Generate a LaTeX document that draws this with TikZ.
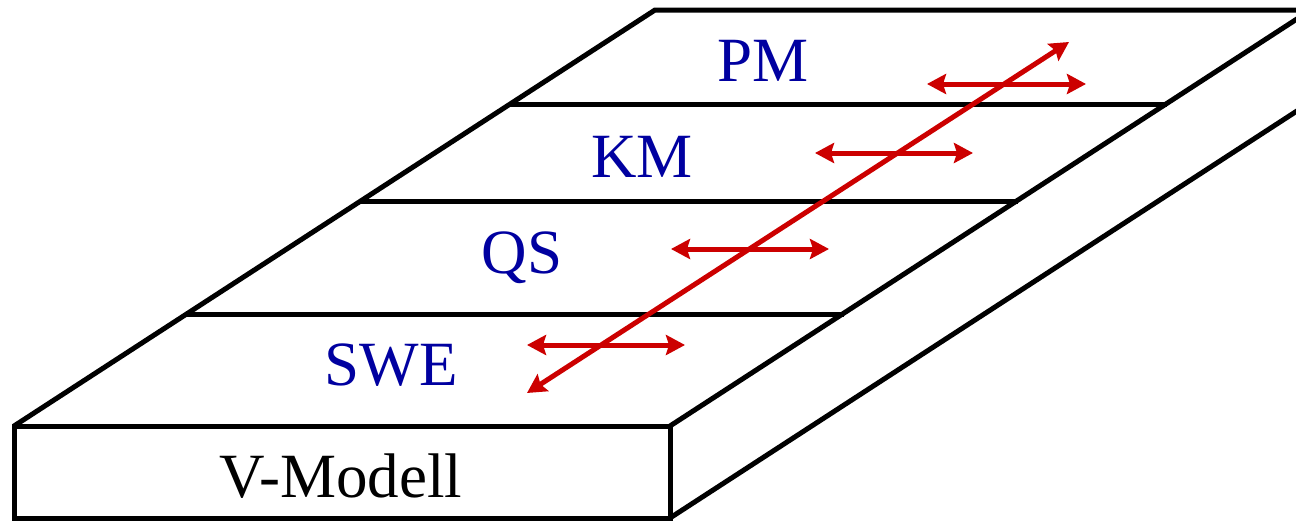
\documentclass[tikz,border=0pt]{standalone}
\usepackage{fontspec}
\setmainfont{Liberation Serif}
\usetikzlibrary{arrows.meta}
\definecolor{lblblue}{RGB}{0,0,160}
\definecolor{arrred}{RGB}{204,0,0}
\begin{document}
\begin{tikzpicture}[x=1pt,y=-1pt,
  edge/.style={line width=5pt, black, line join=miter},
  lbl/.style={text=lblblue, font=\fontsize{63}{75}\selectfont, anchor=base, inner sep=0pt},
  redarrow/.style={line width=5pt, arrred,
    {Stealth[length=19pt,width=20pt,inset=3pt]}-{Stealth[length=19pt,width=20pt,inset=3pt]}}]
\useasboundingbox (0,0) rectangle (1296,522);
\clip (0,0) rectangle (1296,522);
% corners
\coordinate (FL) at (14,426);
\coordinate (FR) at (670,426);
\coordinate (BL) at (14,518);
\coordinate (BR) at (670,518);
\coordinate (TL) at (655,10);
\coordinate (TR) at (1320,10);
\coordinate (RT) at (1320,4);
\coordinate (RB) at (1320,96);
% dividers
\coordinate (D1l) at (510,104);  \coordinate (D1r) at (1167,104);
\coordinate (D2l) at (361,201);  \coordinate (D2r) at (1018,201);
\coordinate (D3l) at (187,314);  \coordinate (D3r) at (844,314);
% box
\draw[edge] (FL) rectangle (BR);
\draw[edge] (FL) -- (TL) -- (TR);
\draw[edge] (FR) -- (RT);
\draw[edge] (BR) -- (RB);
\draw[edge] (D1l) -- (D1r);
\draw[edge] (D2l) -- (D2r);
\draw[edge] (D3l) -- (D3r);
% labels
\node[lbl] (pm) at (763,81) {PM};
\node[lbl] (km) at (642,177) {KM};
\node[lbl] (qs) at (522,273) {QS};
\node[lbl] (swe) at (391,385) {SWE};
\node[lbl, text=black] (vm) at (341,497) {V-Modell};
% arrows
\coordinate (A0) at (527,393); \coordinate (A1) at (1069,42);
\coordinate (P0) at (927,84);  \coordinate (P1) at (1086,84);
\coordinate (K0) at (815,153); \coordinate (K1) at (973,153);
\coordinate (Q0) at (671,249); \coordinate (Q1) at (829,249);
\coordinate (S0) at (527,345); \coordinate (S1) at (685,345);
\draw[redarrow] (A0) -- (A1);
\draw[redarrow] (P0) -- (P1);
\draw[redarrow] (K0) -- (K1);
\draw[redarrow] (Q0) -- (Q1);
\draw[redarrow] (S0) -- (S1);
\end{tikzpicture}
\end{document}
